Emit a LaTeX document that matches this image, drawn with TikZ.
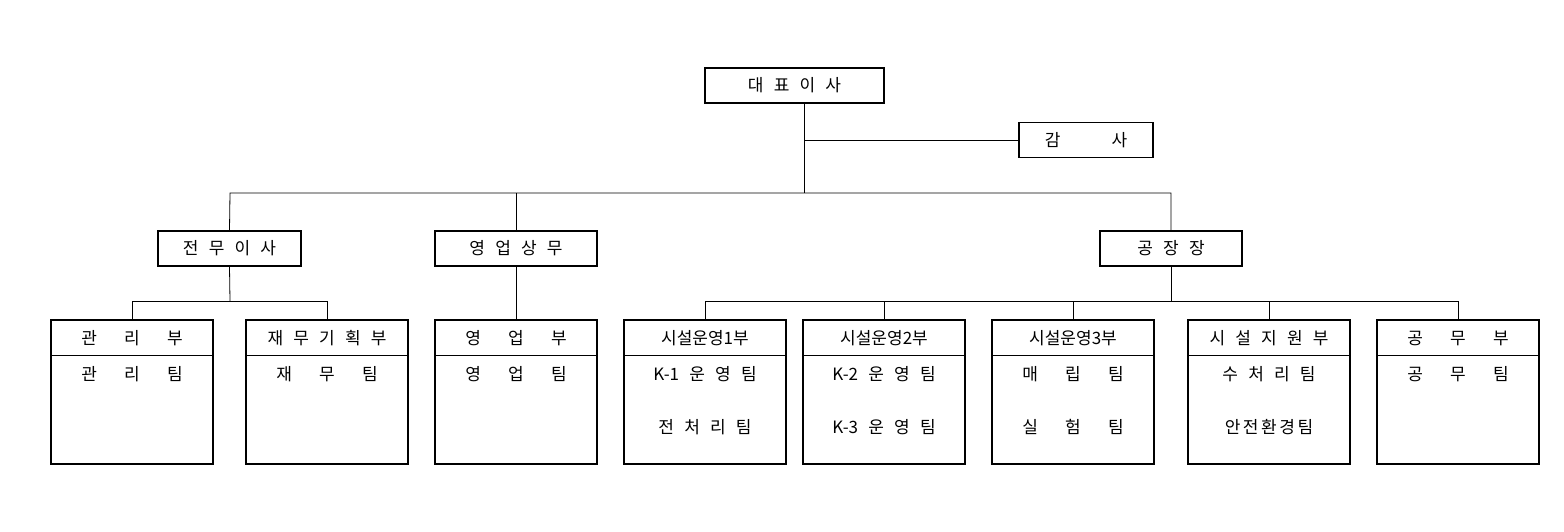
\documentclass[tikz,border=0pt]{standalone}
\usepackage{fontspec}
\setmainfont{Noto Sans CJK KR}
\newcommand{\gp}{\hspace{0.6em}}
\newcommand{\gw}{\hspace{1.6em}}
\begin{document}
\begin{tikzpicture}[x=1pt,y=-1pt,
  bx/.style={draw,line width=1.6pt,minimum height=35pt,inner sep=0pt,font=\fontsize{17}{19}\selectfont},
  ln/.style={line width=0.8pt},
  tx/.style={font=\fontsize{17}{19}\selectfont,inner sep=0pt}]
\useasboundingbox (0,0) rectangle (1564,532);
\node[bx,minimum width=179pt] (ceo) at (794.5,85.5) {대\gp 표\gp 이\gp 사};
\node[bx,minimum width=134pt] (audit) at (1086,140) {감\hspace{3em}사};
\node[bx,minimum width=143pt] (jm) at (229.5,248.5) {전\gp 무\gp 이\gp 사};
\node[bx,minimum width=162pt] (ys) at (516,248.5) {영\gp 업\gp 상\gp 무};
\node[bx,minimum width=142pt] (gj) at (1171,248.5) {공\gp 장\gp 장};
\coordinate (c1) at (804,140);
\coordinate (c2) at (804,193);
\draw[ln] (804,103) -- (c2);
\draw[ln] (c1) -- (audit.west);
\draw[ln] (jm.north) -- (230,193) -- (1171,193) -- (gj.north);
\draw[ln] (516,193) -- (ys.north);
\foreach \n/\x/\h/\a/\b in {
 b1/51/{관\gw 리\gw 부}/{관\gw 리\gw 팀}/{},
 b2/246/{재\gp 무\gp 기\gp 획\gp 부}/{재\gw 무\gw 팀}/{},
 b3/435/{영\gw 업\gw 부}/{영\gw 업\gw 팀}/{},
 b4/624/{시설운영1부}/{K-1\gp 운\gp 영\gp 팀}/{전\gp 처\gp 리\gp 팀},
 b5/803/{시설운영2부}/{K-2\gp 운\gp 영\gp 팀}/{K-3\gp 운\gp 영\gp 팀},
 b6/992/{시설운영3부}/{매\gw 립\gw 팀}/{실\gw 험\gw 팀},
 b7/1188/{시\gp 설\gp 지\gp 원\gp 부}/{수\gp 처\gp 리\gp 팀}/{안\hspace{0.15em}전\hspace{0.15em}환\hspace{0.15em}경\hspace{0.15em}팀},
 b8/1377/{공\gw 무\gw 부}/{공\gw 무\gw 팀}/{}}{
  \draw[line width=1.6pt] (\x,320) rectangle ++(162,144);
  \draw[ln] (\x,355) -- ++(162,0);
  \coordinate (\n) at (\x+81,320);
  \node[tx] (\n h) at (\x+81,338) {\h};
  \node[tx] (\n a) at (\x+81,374) {\a};
  \node[tx] (\n b) at (\x+81,427) {\b};
}
\draw[ln] (jm.south) -- (230,301);
\draw[ln] (b1) -- (132,301) -- (327,301) -- (b2);
\draw[ln] (ys.south) -- (b3);
\draw[ln] (gj.south) -- (1171,301);
\draw[ln] (b4) -- (705,301) -- (1458,301) -- (b8);
\draw[ln] (b5) -- (884,301);
\draw[ln] (b6) -- (1073,301);
\draw[ln] (b7) -- (1269,301);
\end{tikzpicture}
\end{document}
